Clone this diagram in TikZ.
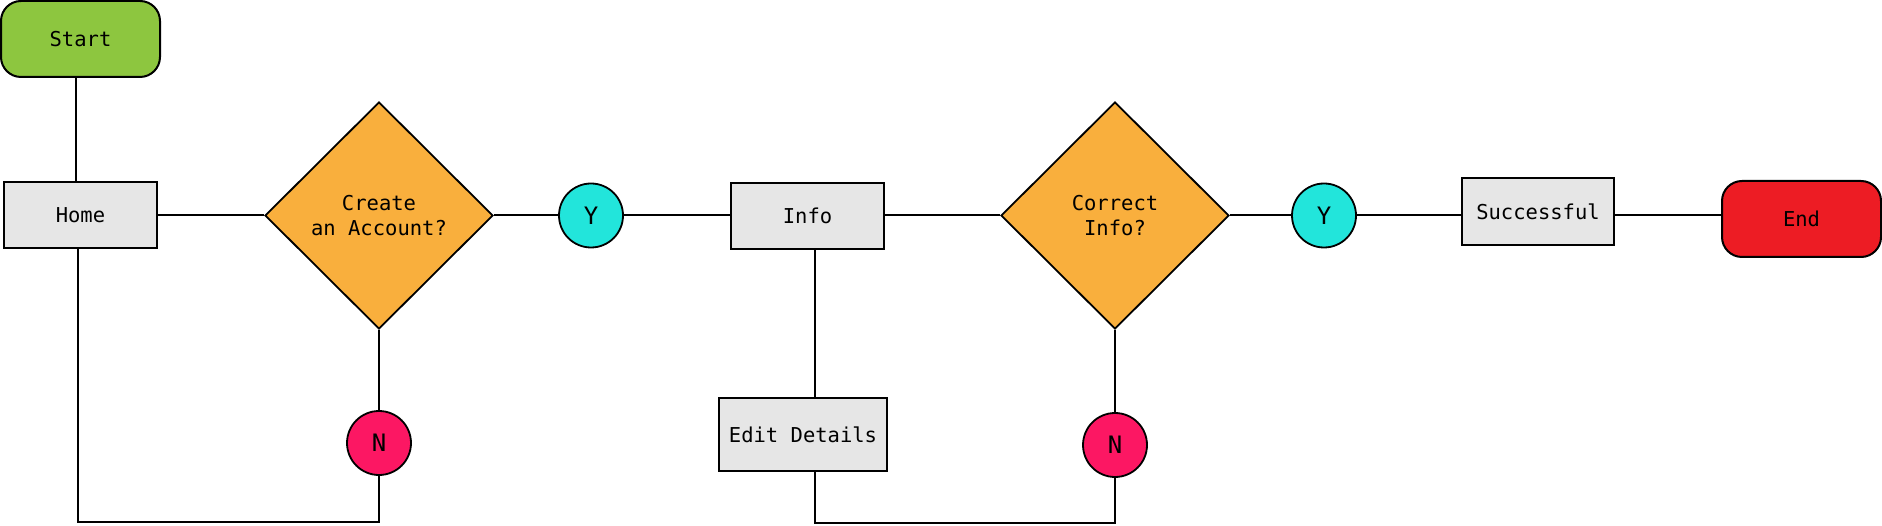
\documentclass[tikz,border=0pt]{standalone}
\usepackage{fontspec}
\setmonofont{DejaVu Sans Mono}
\usetikzlibrary{shapes.geometric}
\definecolor{cgreen}{HTML}{8DC63F}
\definecolor{corange}{HTML}{F9AF3D}
\definecolor{ccyan}{HTML}{22E5DB}
\definecolor{cpink}{HTML}{FC1763}
\definecolor{cred}{HTML}{ED1C24}
\definecolor{cgray}{HTML}{E6E6E6}
\tikzset{
  base/.style={draw=black, line width=2pt, inner sep=0pt, font=\ttfamily\fontsize{20.5}{25}\selectfont, text=black},
  term/.style={base, rounded corners=20pt, minimum width=159pt, minimum height=76pt},
  proc/.style={base, rectangle, fill=cgray},
  decision/.style={base, diamond, fill=corange, minimum width=228pt, minimum height=227pt, align=center, line width=1.8pt},
  yes/.style={base, circle, fill=ccyan, minimum size=64pt, font=\ttfamily\fontsize{24}{25}\selectfont, line width=1.8pt},
  no/.style={base, circle, fill=cpink, minimum size=64pt, font=\ttfamily\fontsize{24}{25}\selectfont, line width=1.8pt},
  conn/.style={draw=black, line width=2pt}
}
\begin{document}
\begin{tikzpicture}[x=1pt,y=-1pt]
\useasboundingbox (0,0) rectangle (1882,526);
\node[term, fill=cgreen] (start) at (80.5,39) {Start};
\node[proc, minimum width=153pt, minimum height=66pt] (home) at (80.5,215.5) {Home};
\node[decision] (d1) at (379,215.5) {Create\\an Account?};
\node[yes] (y1) at (591,215.5) {Y};
\node[no] (n1) at (379,443) {N};
\node[proc, minimum width=153pt, minimum height=66pt] (info) at (807.5,216) {Info};
\node[proc, minimum width=168pt, minimum height=73pt] (edit) at (803,434.5) {Edit Details};
\node[decision] (d2) at (1115,215.5) {Correct\\Info?};
\node[yes] (y2) at (1324,215.5) {Y};
\node[no] (n2) at (1115,445) {N};
\node[proc, minimum width=152pt, minimum height=67pt] (succ) at (1538,211.5) {Successful};
\node[term, fill=cred] (end) at (1801.5,219) {End};
\coordinate (b1) at (379,522);
\coordinate (b2) at (1115,523);
\draw[conn] ([xshift=-4.5pt]start.south) -- ([xshift=-4.5pt]home.north);
\draw[conn] (home.east) -- (d1.west);
\draw[conn] (d1.east) -- (y1.west);
\draw[conn] (y1.east) -- (y1.east -| info.west);
\draw[conn] (y1.east -| info.east) -- (y1.east -| d2.west);
\draw[conn] (d2.east) -- (d2.east -| y2.west);
\draw[conn] (y2.east) -- (y2.east -| succ.west);
\draw[conn] (y2.east -| succ.east) -- (y2.east -| end.west);
\draw[conn] (d1.south) -- (n1.north);
\draw[conn] ([xshift=-2.5pt]home.south) |- (b1) -- (n1.south);
\draw[conn] ([xshift=7.5pt]info.south) -- ([xshift=7.5pt]info.south |- edit.north);
\draw[conn] ([xshift=12pt]edit.south) |- (b2) -- (n2.south);
\draw[conn] (d2.south) -- (n2.north);
\end{tikzpicture}
\end{document}
